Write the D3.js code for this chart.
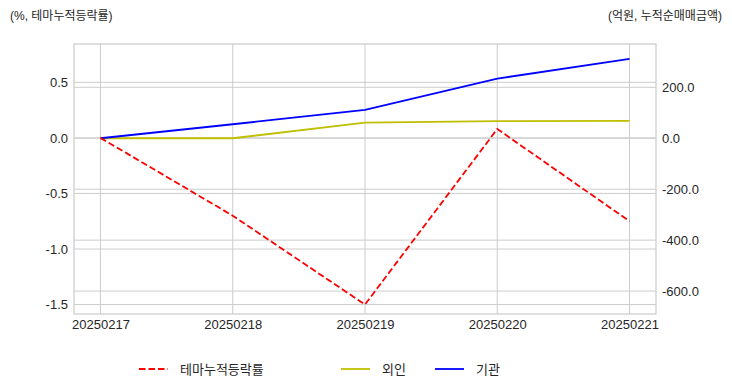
<!DOCTYPE html>
<html>
<head>
<meta charset="utf-8">
<script src="https://cdn.jsdelivr.net/npm/d3@7"></script>
<style>
  body { margin: 0; background: #fff; }
  text { font-family: "Liberation Sans", "Noto Sans CJK KR", sans-serif; fill: #262626; }
</style>
</head>
<body>
<div id="chart"></div>
<script>
// data
var dates = ["20250217", "20250218", "20250219", "20250220", "20250221"];
var themeRate = [0.0, -0.70, -1.50, 0.08, -0.75];     // %, left axis
var foreign = [0, 0, 61, 67, 68];                      // 억원, right axis
var institution = [0, 55, 111, 234, 312];              // 억원, right axis
var leftTicks = [0.5, 0.0, -0.5, -1.0, -1.5];
var rightTicks = [200, 0, -200, -400, -600];

var width = 732, height = 392;
var margin = {top: 44, right: 76, bottom: 78, left: 74};
var w = width - margin.left - margin.right,
    h = height - margin.top - margin.bottom;

var svg = d3.select("#chart").append("svg")
    .attr("width", width)
    .attr("height", height);

var g = svg.append("g")
    .attr("transform", "translate(" + margin.left + "," + margin.top + ")");

// scales
var x = d3.scaleLinear().domain([-0.2, dates.length - 1 + 0.2]).range([0, w]);
var yL = d3.scaleLinear().domain([0.845, -1.585]).range([0, h]);
var yR = d3.scaleLinear().domain([370, -690]).range([0, h]);

// grid lines
g.append("g").selectAll("line").data(leftTicks).enter().append("line")
    .attr("x1", 0).attr("x2", w)
    .attr("y1", function(d) { return yL(d); }).attr("y2", function(d) { return yL(d); })
    .style("stroke", "#cccccc").style("stroke-width", 1);
g.append("g").selectAll("line").data(rightTicks).enter().append("line")
    .attr("x1", 0).attr("x2", w)
    .attr("y1", function(d) { return yR(d); }).attr("y2", function(d) { return yR(d); })
    .style("stroke", "#cccccc").style("stroke-width", 1);
g.append("g").selectAll("line").data(dates).enter().append("line")
    .attr("x1", function(d, i) { return x(i); }).attr("x2", function(d, i) { return x(i); })
    .attr("y1", 0).attr("y2", h)
    .style("stroke", "#cccccc").style("stroke-width", 1);

// axes (labels only)
var axL = g.append("g")
    .call(d3.axisLeft(yL).tickValues(leftTicks).tickFormat(d3.format(".1f")).tickSize(0).tickPadding(6));
var axR = g.append("g")
    .attr("transform", "translate(" + w + ",0)")
    .call(d3.axisRight(yR).tickValues(rightTicks).tickFormat(d3.format(".1f")).tickSize(0).tickPadding(6));
var axB = g.append("g")
    .attr("transform", "translate(0," + h + ")")
    .call(d3.axisBottom(x).tickValues(d3.range(dates.length))
      .tickFormat(function(i) { return dates[i]; }).tickSize(0).tickPadding(6));
[axL, axR, axB].forEach(function(a) {
  a.select(".domain").remove();
  a.selectAll("text").style("font-size", "13px").style("fill", "#262626")
    .text(function() { return this.textContent.replace("−", "-"); });
});

// frame
g.append("rect").attr("x", 0).attr("y", 0).attr("width", w).attr("height", h)
    .style("fill", "none").style("stroke", "#cccccc").style("stroke-width", 1.25);

// lines
var lineL = d3.line().x(function(d, i) { return x(i); }).y(function(d) { return yL(d); });
var lineR = d3.line().x(function(d, i) { return x(i); }).y(function(d) { return yR(d); });

g.append("path").datum(foreign).attr("d", lineR)
    .style("fill", "none").style("stroke", "#bfbf00").style("stroke-width", 1.8);
g.append("path").datum(institution).attr("d", lineR)
    .style("fill", "none").style("stroke", "#0000ff").style("stroke-width", 1.8);
g.append("path").datum(themeRate).attr("d", lineL)
    .style("fill", "none").style("stroke", "#ff0000").style("stroke-width", 1.8)
    .style("stroke-dasharray", "6.5,3");

// axis titles
svg.append("text").attr("x", 10).attr("y", 20).text("(%, 테마누적등락률)")
    .style("font-size", "12px");
svg.append("text").attr("x", 722).attr("y", 20).attr("text-anchor", "end").text("(억원, 누적순매매금액)")
    .style("font-size", "12px");

// legend
var legend = [
  {name: "테마누적등락률", color: "#ff0000", dash: "6.5,3", x: 139},
  {name: "외인", color: "#bfbf00", dash: null, x: 341},
  {name: "기관", color: "#0000ff", dash: null, x: 435}
];
var lg = svg.append("g").selectAll("g").data(legend).enter().append("g")
    .attr("transform", function(d) { return "translate(" + d.x + ",369)"; });
lg.append("line").attr("x1", 0).attr("x2", 29).attr("y1", 0).attr("y2", 0)
    .style("stroke", function(d) { return d.color; }).style("stroke-width", 1.8)
    .style("stroke-dasharray", function(d) { return d.dash; });
lg.append("text").attr("x", 41).attr("y", 0).attr("dy", "0.35em").text(function(d) { return d.name; })
    .style("font-size", "13px");
</script>
</body>
</html>
